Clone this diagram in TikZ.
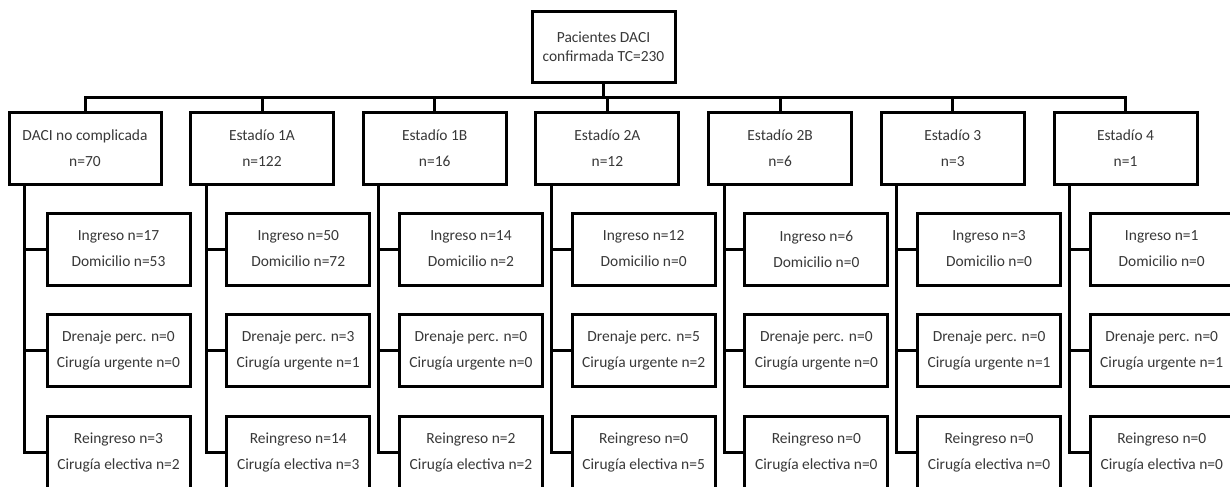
\documentclass[tikz,border=0pt]{standalone}
\usepackage{fontspec}
\setmainfont{Carlito}
\begin{document}
\begin{tikzpicture}[x=0.75pt,y=-0.75pt,
  line width=2.25pt,
  box/.style={draw=black, line width=2.25pt, fill=white, inner sep=0pt, align=center,
    text=black!78, minimum width=107.25pt, minimum height=54pt,
    font=\fontsize{11.6}{19.5}\selectfont},
  topbox/.style={box, minimum height=53.25pt, font=\fontsize{11.6}{14.25}\selectfont},
  conn/.style={draw=black, line width=2.25pt}]
\useasboundingbox (0,0) rectangle (1230,486);
\clip (0,0) rectangle (1230,486);
\fill[white] (0,0) rectangle (1230,486);
\node[topbox] (top) at (603.5,46.5) {Pacientes DACI\\confirmada TC=230};
\coordinate (bus) at (603.5,97);
\foreach \i/\cx/\w/\vx/\sx/\t/\n/\ing/\dom/\dre/\cu/\re/\ce in {
  0/85/152/24/118.5/DACI no complicada/70/17/53/0/0/3/2,
  1/262/143/206/298.25/Estadío 1A/122/50/72/3/1/14/3,
  2/434.7/143/378.7/470.95/Estadío 1B/16/14/2/0/0/2/2,
  3/607.4/143/551.4/643.65/Estadío 2A/12/12/0/5/2/0/5,
  4/780.1/143/724.1/816.35/Estadío 2B/6/6/0/0/0/0/0,
  5/952.8/143/896.8/989.05/Estadío 3/3/3/0/0/1/0/0,
  6/1125.5/143/1069.5/1161.75/Estadío 4/1/1/0/0/1/0/0}{
  \node[box, minimum width=\w*0.75pt] (s\i) at (\cx,148) {\t\\n=\n};
  \node[box] (a\i) at (\sx,249) {Ingreso n=\ing\\Domicilio n=\dom};
  \node[box] (b\i) at (\sx,350.5) {Drenaje perc. n=\dre\\Cirugía urgente n=\cu};
  \node[box] (c\i) at (\sx,452) {Reingreso n=\re\\Cirugía electiva n=\ce};
  \coordinate (v\i) at (\vx,184);
  \draw[conn] (v\i) |- (c\i.west);
  \draw[conn] (v\i |- a\i.west) -- (a\i.west);
  \draw[conn] (v\i |- b\i.west) -- (b\i.west);
}
\draw[conn] (top.south) -- (bus);
\draw[conn] (s0.north) |- (s6.north |- bus) -- (s6.north);
\foreach \i in {1,...,5}{
  \draw[conn] (s\i.north) -- (s\i.north |- bus);
}
\end{tikzpicture}
\end{document}
